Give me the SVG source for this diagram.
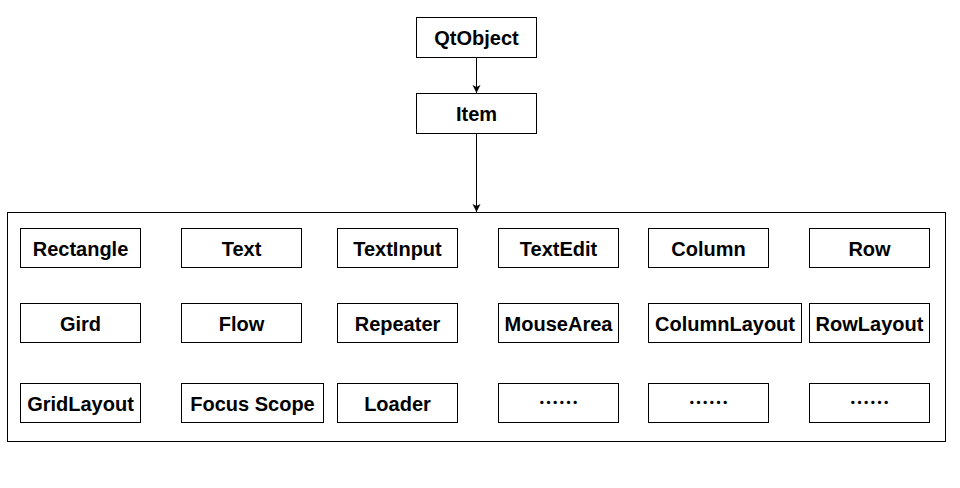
<svg xmlns="http://www.w3.org/2000/svg" width="960" height="488" viewBox="0 0 960 488">
<defs>
<style>
rect{fill:#fff;stroke:#000;stroke-width:1}
text{font-family:"Liberation Sans",Arial,sans-serif;font-weight:bold;font-size:20px;fill:#000;text-anchor:middle}
text.dots{font-family:"Noto Sans CJK SC","Liberation Sans",sans-serif}
.edge{stroke:#000;stroke-width:1;fill:none}
</style>
<marker id="arr" markerUnits="userSpaceOnUse" markerWidth="9" markerHeight="9" refX="8" refY="4" orient="auto">
<path d="M0,0 L8,4 L0,8 L2,4 z" fill="#000"/>
</marker>
</defs>
<rect x="0" y="0" width="960" height="488" style="stroke:none"/>
<g id="container"><rect x="7.5" y="212.5" width="938" height="229"/></g>
<g id="qtobject"><rect x="416.5" y="17.5" width="120" height="40"/><text x="476.5" y="45">QtObject</text></g>
<g id="item"><rect x="416.5" y="93.5" width="120" height="40"/><text x="476.5" y="121">Item</text></g>
<g id="connectors">
<path class="edge" d="M476.5,57.5 V93" marker-end="url(#arr)"/>
<path class="edge" d="M476.5,133.5 V212" marker-end="url(#arr)"/>
</g>
<g id="rectangle"><rect x="20.5" y="228.5" width="120" height="39"/><text x="80.5" y="256">Rectangle</text></g>
<g id="text"><rect x="181.5" y="228.5" width="120" height="39"/><text x="241.5" y="256">Text</text></g>
<g id="textinput"><rect x="337.5" y="228.5" width="120" height="39"/><text x="397.5" y="256">TextInput</text></g>
<g id="textedit"><rect x="498.5" y="228.5" width="120" height="39"/><text x="558.5" y="256">TextEdit</text></g>
<g id="column"><rect x="648.5" y="228.5" width="120" height="39"/><text x="708.5" y="256">Column</text></g>
<g id="row"><rect x="809.5" y="228.5" width="120" height="39"/><text x="869.5" y="256">Row</text></g>
<g id="gird"><rect x="20.5" y="303.5" width="120" height="39"/><text x="80.5" y="331">Gird</text></g>
<g id="flow"><rect x="181.5" y="303.5" width="120" height="39"/><text x="241.5" y="331">Flow</text></g>
<g id="repeater"><rect x="337.5" y="303.5" width="120" height="39"/><text x="397.5" y="331">Repeater</text></g>
<g id="mousearea"><rect x="498.5" y="303.5" width="120" height="39"/><text x="558.5" y="331">MouseArea</text></g>
<g id="columnlayout"><rect x="648.5" y="303.5" width="153" height="39"/><text x="725" y="331">ColumnLayout</text></g>
<g id="rowlayout"><rect x="809.5" y="303.5" width="120" height="39"/><text x="869.5" y="331">RowLayout</text></g>
<g id="gridlayout"><rect x="20.5" y="383.5" width="120" height="39"/><text x="80.5" y="411">GridLayout</text></g>
<g id="focusscope"><rect x="181.5" y="383.5" width="142" height="39"/><text x="252.5" y="411">Focus Scope</text></g>
<g id="loader"><rect x="337.5" y="383.5" width="120" height="39"/><text x="397.5" y="411">Loader</text></g>
<g id="more1"><rect x="498.5" y="383.5" width="120" height="39"/><text class="dots" x="558.5" y="410">……</text></g>
<g id="more2"><rect x="648.5" y="383.5" width="120" height="39"/><text class="dots" x="708.5" y="410">……</text></g>
<g id="more3"><rect x="809.5" y="383.5" width="120" height="39"/><text class="dots" x="869.5" y="410">……</text></g>
</svg>
